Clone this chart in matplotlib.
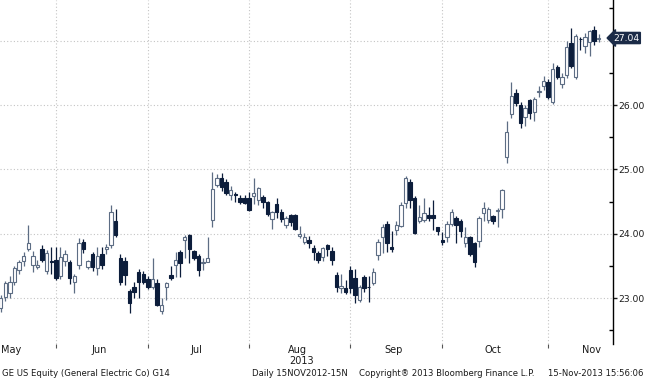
import numpy as np
import pandas as pd
import matplotlib
matplotlib.use('Agg')
import matplotlib.pyplot as plt
import matplotlib.transforms as mtrans
from matplotlib.patches import Rectangle

# ---- data ----
opens = [22.85, 23.02, 23.08, 23.25, 23.44, 23.58, 23.76, 23.52, 23.49, 23.77,
         23.42, 23.58, 23.60, 23.34, 23.58, 23.56, 23.25, 23.51, 23.87, 23.48,
         23.69, 23.47, 23.68, 23.76, 23.82, 24.20, 23.62, 23.58, 23.12, 23.17,
         23.40, 23.38, 23.30, 23.18, 23.24, 22.80, 23.18, 23.36, 23.51, 23.72,
         23.90, 23.98, 23.73, 23.66, 23.55, 23.57, 24.22, 24.76, 24.87, 24.80,
         24.60, 24.62, 24.55, 24.56, 24.55, 24.59, 24.53, 24.57, 24.49, 24.23,
         24.46, 24.34, 24.14, 24.29, 24.29, 23.96, 23.87, 23.90, 23.78, 23.70,
         23.64, 23.82, 23.73, 23.36, 23.16, 23.16, 23.44, 23.32, 22.97, 23.33,
         23.18, 23.24, 23.67, 23.95, 24.15, 23.79, 24.06, 24.12, 24.48, 24.80,
         24.55, 24.20, 24.21, 24.29, 24.30, 24.10, 23.90, 23.95, 24.15, 24.24,
         24.20, 23.86, 23.95, 23.86, 23.89, 24.32, 24.21, 24.28, 24.36, 24.38,
         25.20, 25.86, 26.19, 26.00, 25.81, 26.08, 25.89, 26.20, 26.30, 26.36,
         26.05, 26.59, 26.33, 26.47, 26.96, 26.43, 27.03, 26.91, 26.98, 27.16,
         27.02]
highs = [23.05, 23.27, 23.35, 23.50, 23.60, 23.72, 24.13, 23.74, 23.60, 23.82,
         23.75, 23.80, 23.80, 23.80, 23.75, 23.60, 23.38, 23.93, 23.92, 23.60,
         23.72, 23.80, 23.79, 23.84, 24.45, 24.38, 23.68, 23.64, 23.15, 23.25,
         23.45, 23.43, 23.35, 23.62, 23.30, 23.00, 23.26, 23.50, 23.72, 23.75,
         23.98, 24.00, 23.75, 23.68, 23.62, 23.95, 24.96, 24.93, 24.95, 24.85,
         24.75, 24.65, 24.60, 24.60, 24.65, 24.87, 24.73, 24.60, 24.51, 24.36,
         24.55, 24.38, 24.28, 24.31, 24.31, 24.12, 24.02, 23.96, 23.83, 23.74,
         23.80, 23.85, 23.80, 23.40, 23.37, 23.28, 23.50, 23.45, 23.20, 23.36,
         23.34, 23.47, 23.92, 24.15, 24.20, 24.05, 24.20, 24.50, 24.90, 24.85,
         24.58, 24.45, 24.55, 24.42, 24.52, 24.10, 24.03, 24.20, 24.38, 24.28,
         24.23, 24.10, 23.97, 23.88, 24.28, 24.50, 24.42, 24.30, 24.40, 24.70,
         25.75, 26.36, 26.25, 26.05, 26.00, 26.10, 26.12, 26.30, 26.45, 26.40,
         26.65, 26.62, 26.50, 27.00, 27.20, 27.10, 27.05, 27.12, 27.17, 27.22,
         27.10]
lows = [22.78, 22.95, 23.00, 23.20, 23.38, 23.50, 23.74, 23.40, 23.45, 23.56,
        23.38, 23.38, 23.28, 23.30, 23.50, 23.22, 23.08, 23.45, 23.70, 23.46,
        23.42, 23.36, 23.45, 23.68, 23.78, 23.95, 23.20, 23.20, 22.77, 23.00,
        23.00, 23.22, 23.15, 23.15, 22.88, 22.76, 22.98, 23.28, 23.33, 23.33,
        23.62, 23.55, 23.60, 23.35, 23.44, 23.56, 24.10, 24.73, 24.66, 24.60,
        24.52, 24.50, 24.47, 24.46, 24.36, 24.47, 24.45, 24.40, 24.27, 24.08,
        24.25, 24.18, 24.09, 24.12, 24.06, 23.93, 23.84, 23.78, 23.60, 23.55,
        23.58, 23.65, 23.52, 23.10, 23.08, 23.07, 23.08, 22.92, 22.94, 23.10,
        22.94, 23.20, 23.60, 23.70, 23.72, 23.72, 23.98, 24.10, 24.40, 24.40,
        24.00, 24.17, 24.18, 24.20, 24.06, 23.98, 23.83, 23.87, 24.12, 23.86,
        23.95, 23.80, 23.65, 23.48, 23.80, 24.20, 24.17, 24.15, 24.10, 24.25,
        25.10, 25.80, 25.98, 25.65, 25.67, 25.78, 25.75, 26.12, 26.23, 26.10,
        26.02, 26.40, 26.27, 26.42, 26.58, 26.40, 26.85, 26.80, 26.76, 26.93,
        26.98]
closes = [23.00, 23.24, 23.25, 23.47, 23.56, 23.66, 23.86, 23.65, 23.52, 23.60,
          23.70, 23.57, 23.31, 23.64, 23.68, 23.31, 23.35, 23.86, 23.76, 23.58,
          23.49, 23.66, 23.52, 23.80, 24.34, 23.98, 23.25, 23.36, 22.92, 23.10,
          23.25, 23.26, 23.18, 23.30, 22.90, 22.90, 23.23, 23.31, 23.60, 23.55,
          23.95, 23.77, 23.63, 23.44, 23.57, 23.62, 24.70, 24.87, 24.72, 24.63,
          24.68, 24.61, 24.50, 24.48, 24.37, 24.64, 24.71, 24.50, 24.31, 24.34,
          24.34, 24.23, 24.25, 24.18, 24.08, 24.00, 23.95, 23.86, 23.72, 23.59,
          23.78, 23.77, 23.59, 23.17, 23.19, 23.10, 23.16, 23.05, 23.17, 23.16,
          23.17, 23.40, 23.88, 24.10, 23.86, 23.77, 24.14, 24.45, 24.86, 24.52,
          24.02, 24.26, 24.32, 24.25, 24.24, 24.05, 23.87, 24.15, 24.34, 24.13,
          24.05, 23.95, 23.68, 23.56, 24.25, 24.40, 24.38, 24.20, 24.37, 24.68,
          25.58, 26.14, 26.03, 25.72, 25.95, 25.88, 26.10, 26.22, 26.37, 26.12,
          26.56, 26.43, 26.44, 26.90, 26.60, 27.07, 27.02, 27.05, 27.15, 26.99,
          27.04]
holidays = ['2013-05-27', '2013-07-04', '2013-09-02', '2013-11-28']
start_date, end_date = '2013-05-14', '2013-11-15'
y_ticks = [23, 24, 25, 26, 27]
last_price = 27.04
year_label = '2013'
footer_texts = ['GE US Equity (General Electric Co) G14', 'Daily 15NOV2012-15N',
                'Copyright\u00ae 2013 Bloomberg Finance L.P.', '15-Nov-2013 15:56:06']

hol = pd.to_datetime(holidays)
dates = pd.bdate_range(start_date, end_date)
dates = dates[~dates.isin(hol)]
n = min(len(dates), len(opens))
dates = dates[:n]
idx = np.arange(n)

navy = '#0c1d3b'
hollow_edge = '#5d6d84'
txt = '#1a1a1a'

fig = plt.figure(figsize=(6.45, 3.8), dpi=100)
ax = fig.add_axes([0, 1 - 344 / 380, 613 / 645, 344 / 380])

w = 0.72
for i in idx:
    o, h, l, c = opens[i], highs[i], lows[i], closes[i]
    up = c >= o
    col = hollow_edge if up else navy
    ax.vlines(i, l, h, color=col, lw=0.9, zorder=2)
    body = max(abs(c - o), 0.012)
    ax.add_patch(Rectangle((i - w / 2, min(o, c)), w, body,
                           facecolor='white' if up else navy,
                           edgecolor=col, lw=0.8, zorder=3))

ax.set_xlim(-0.15, 133.1)
ax.set_ylim(22.29, 27.63)

# month boundaries: last trading day of each month
months = dates.to_period('M')
bounds = [i for i in range(n - 1) if months[i] != months[i + 1]]
grid_col = '#c4c4c4'
for b in bounds:
    ax.axvline(b, color=grid_col, lw=0.8, ls=(0, (1, 2)), zorder=0)
for y in y_ticks:
    ax.axhline(y, color=grid_col, lw=0.8, ls=(0, (1, 2)), zorder=0)

ax.set_xticks(bounds)
ax.set_xticklabels([])
ax.tick_params(axis='x', direction='out', length=3, color='#555555', width=0.8)

# month labels centered in each month's span
tf = mtrans.blended_transform_factory(ax.transData, fig.transFigure)
my = 1 - 350 / 380
mlist = months.unique()
for k, m in enumerate(mlist):
    if k == 0:
        fig.text(1 / 645, my, m.strftime('%b'), ha='left', va='center', fontsize=7, color=txt)
        continue
    start = bounds[k - 1]
    if k < len(bounds):
        end = bounds[k]
    else:
        full = np.busday_count(m.start_time.date(),
                               (m.end_time + pd.Timedelta(days=1)).date(),
                               holidays=[d.date() for d in hol])
        end = start + full
    ax.text((start + end) / 2 - 0.5, my, m.strftime('%b'), transform=tf,
            ha='center', va='center', fontsize=7, color=txt)

aug_i = [k for k, m in enumerate(mlist) if m.month == 8][0]
ax.text((bounds[aug_i - 1] + bounds[aug_i]) / 2 + 0.5, 1 - 361 / 380, year_label,
        transform=tf, ha='center', va='center', fontsize=7, color=txt)

for s in ['left', 'top', 'bottom']:
    ax.spines[s].set_visible(False)
ax.spines['right'].set_color('black')
ax.spines['right'].set_linewidth(1.0)

ax.yaxis.tick_right()
ax.set_yticks(y_ticks)
ax.set_yticklabels([f'{v:.2f}' if v != 27 else '' for v in y_ticks])
ax.set_yticks(np.arange(22.5, 27.6, 1.0), minor=True)
ax.tick_params(axis='y', which='major', direction='out', length=3, width=1,
               labelsize=6.6, pad=0.8, colors=txt)
ax.tick_params(axis='y', which='minor', direction='in', length=3, width=1, color='black')

ax.text(1.0, last_price, f'{last_price:.2f}', transform=ax.get_yaxis_transform(),
        ha='left', va='center', fontsize=6.6, color='white',
        bbox=dict(boxstyle='larrow,pad=0.12', facecolor='#1b2b47', edgecolor='#1b2b47'))

fy = 1 - 374 / 380
fig.text(2 / 645, fy, footer_texts[0], fontsize=6.1, ha='left', va='center', color=txt)
fig.text(252 / 645, fy, footer_texts[1], fontsize=6.1, ha='left', va='center', color=txt)
fig.text(359 / 645, fy, footer_texts[2], fontsize=6.1, ha='left', va='center', color=txt)
fig.text(643 / 645, fy, footer_texts[3], fontsize=6.1, ha='right', va='center', color=txt)

fig.savefig('out.png', dpi=100, facecolor='white')
